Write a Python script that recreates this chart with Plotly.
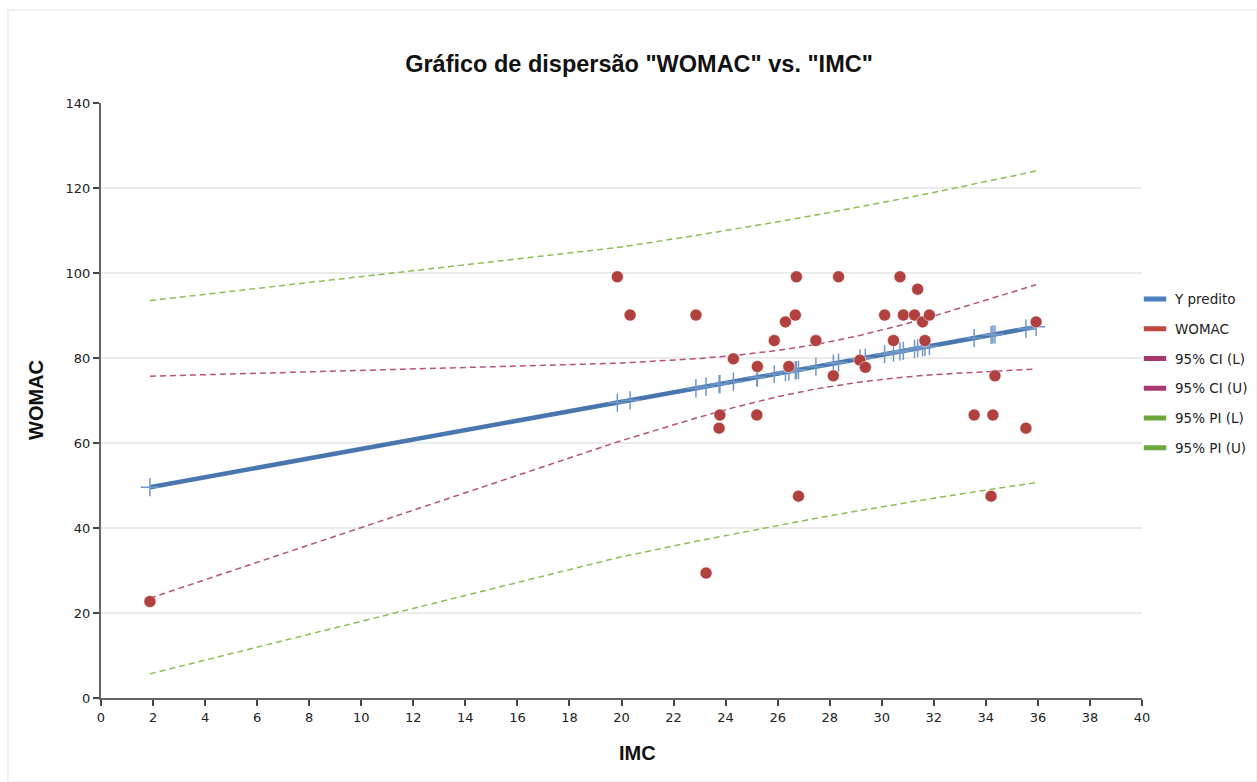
import plotly.graph_objects as go

# ---- data ----
IMC = [1.88, 19.84, 20.33, 22.86, 23.25, 23.78, 23.75, 24.30, 25.22, 25.20,
       25.87, 26.30, 26.43, 26.72, 26.68, 26.80, 27.47, 28.14, 28.34, 29.16,
       29.37, 30.11, 30.45, 30.70, 30.83, 31.26, 31.38, 31.57, 31.66, 31.83,
       33.55, 34.20, 34.27, 34.35, 35.54, 35.93]
WOMAC = [22.7, 99.1, 90.1, 90.1, 29.4, 66.6, 63.5, 79.8, 78.0, 66.6,
         84.1, 88.5, 78.0, 99.1, 90.1, 47.5, 84.1, 75.8, 99.1, 79.5,
         77.8, 90.1, 84.1, 99.1, 90.1, 90.1, 96.2, 88.5, 84.1, 90.1,
         66.6, 47.5, 66.6, 75.8, 63.5, 88.5]
Y_PRED = [49.60, 69.50, 70.05, 72.85, 73.28, 73.87, 73.84, 74.44, 75.46, 75.44,
          76.18, 76.66, 76.80, 77.13, 77.08, 77.21, 77.96, 78.70, 78.92, 79.83,
          80.06, 80.88, 81.26, 81.54, 81.68, 82.16, 82.29, 82.50, 82.60, 82.79,
          84.69, 85.41, 85.49, 85.58, 86.90, 87.33]

BAND_X = [1.88, 19.84, 22.86, 24.30, 26.00, 27.50, 29.20, 30.80, 32.00, 34.30, 35.93]
CI_L = [23.49, 60.24, 65.87, 68.32, 70.89, 72.77, 74.38, 75.47, 76.09, 76.95, 77.42]
CI_U = [75.71, 78.76, 79.83, 80.56, 81.77, 83.21, 85.36, 87.83, 89.87, 94.09, 97.24]
PI_L = [5.69, 33.01, 36.87, 38.61, 40.62, 42.31, 44.15, 45.81, 47.01, 49.20, 50.67]
PI_U = [93.51, 105.99, 108.83, 110.27, 112.04, 113.67, 115.59, 117.49, 118.95, 121.84, 123.99]

X_TICKS = list(range(0, 41, 2))
Y_TICKS = list(range(0, 141, 20))

BLUE = "#4a76b0"
BLUE_MK = "#6f98c9"
RED = "#b0413e"
PINK = "#b8507f"
GREEN = "#8dbd52"
LEG_PINK = "#a8386f"
LEG_GREEN = "#6fa83a"
LEG_BLUE = "#4f7fc0"
LEG_RED = "#c0483f"

order = sorted(range(len(IMC)), key=lambda i: IMC[i])
xs = [IMC[i] for i in order]
yp = [Y_PRED[i] for i in order]

fig = go.Figure()

# bands
for yv, col in [(PI_U, GREEN), (PI_L, GREEN), (CI_U, PINK), (CI_L, PINK)]:
    fig.add_trace(go.Scatter(x=BAND_X, y=yv, mode="lines", showlegend=False,
                             line=dict(color=col, width=1.5, dash="6px,4px"),
                             hoverinfo="skip"))

# predicted line with + markers
fig.add_trace(go.Scatter(x=xs, y=yp, mode="lines", showlegend=False,
                         line=dict(color=BLUE, width=4.5)))
fig.add_trace(go.Scatter(x=xs, y=yp, mode="markers", showlegend=False,
                         marker=dict(symbol="cross-thin", size=13,
                                     line=dict(color=BLUE_MK, width=1.5))))

# observed points
fig.add_trace(go.Scatter(x=IMC, y=WOMAC, mode="markers", showlegend=False,
                         marker=dict(color=RED, size=12,
                                     line=dict(color="white", width=0.5))))

# legend entries (rectangular swatches)
legend_items = [("Y predito", LEG_BLUE), ("WOMAC", LEG_RED),
                ("95% CI (L)", LEG_PINK), ("95% CI (U)", LEG_PINK),
                ("95% PI (L)", LEG_GREEN), ("95% PI (U)", LEG_GREEN)]
for k, (name, col) in enumerate(legend_items):
    fig.add_trace(go.Scatter(x=[None], y=[None], mode="markers", name=name,
                             legendgroup="g%d" % k,
                             marker=dict(symbol="line-ew", size=16, color=col,
                                         line=dict(color=col, width=6))))

font_main = "DejaVu Sans, Verdana, sans-serif"
font_bold = "Liberation Sans, Arial, sans-serif"
fig.update_layout(
    width=1257, height=782,
    margin=dict(l=101, r=115, t=103, b=84, autoexpand=False),
    paper_bgcolor="white", plot_bgcolor="white",
    title=dict(text='Gráfico de dispersão "WOMAC" vs. "IMC"',
               x=639/1257, xanchor="center", y=0.918, yanchor="middle",
               font=dict(family=font_bold, size=23.5, color="#111", weight="bold")),
    legend=dict(x=1.0 - 7/1041, xanchor="left", y=0.6963, yanchor="top",
                traceorder="grouped", tracegroupgap=9.2, itemwidth=30,
                font=dict(family=font_main, size=13.5, color="#222"),
                bgcolor="rgba(0,0,0,0)"),
    font=dict(family=font_main, size=12, color="#222"),
    showlegend=True,
)
fig.update_xaxes(range=[0, 40], tickvals=X_TICKS, ticktext=[str(v) for v in X_TICKS],
                 showgrid=False, zeroline=False, showline=True,
                 linecolor="#666", linewidth=2, ticks="outside", ticklen=6,
                 tickcolor="#444", tickwidth=1.5,
                 tickfont=dict(family=font_main, size=13, color="#222"))
fig.update_yaxes(range=[0, 140], tickvals=Y_TICKS, ticktext=[str(v) for v in Y_TICKS],
                 showgrid=True, gridcolor="#ebebeb", gridwidth=2,
                 zeroline=False, showline=True,
                 linecolor="#666", linewidth=2, ticks="outside", ticklen=6,
                 tickcolor="#444", tickwidth=1.5,
                 tickfont=dict(family=font_main, size=13, color="#222"))

# axis titles (centred where the reference puts them)
fig.add_annotation(text="IMC", xref="paper", yref="paper",
                   x=(637.5 - 101) / 1041, y=(698 - 753) / 595,
                   xanchor="center", yanchor="middle", showarrow=False,
                   font=dict(family=font_bold, size=20, color="#111", weight="bold"))
fig.add_annotation(text="WOMAC", xref="paper", yref="paper",
                   x=(36 - 101) / 1041, y=(698 - 400) / 595, textangle=-90,
                   xanchor="center", yanchor="middle", showarrow=False,
                   font=dict(family=font_bold, size=20, color="#111", weight="bold"))

# faint outer frame seen in the reference
fig.add_shape(type="rect", xref="paper", yref="paper",
              x0=-93/1041, x1=(1257-101)/1041, y0=-84/595, y1=(698-10)/595,
              line=dict(color="#eeeeee", width=1.5), layer="below")

fig.write_html("out.html", config={"displayModeBar": False},
               post_script="document.body.style.margin='0';"
                           "document.body.style.overflow='hidden';")
